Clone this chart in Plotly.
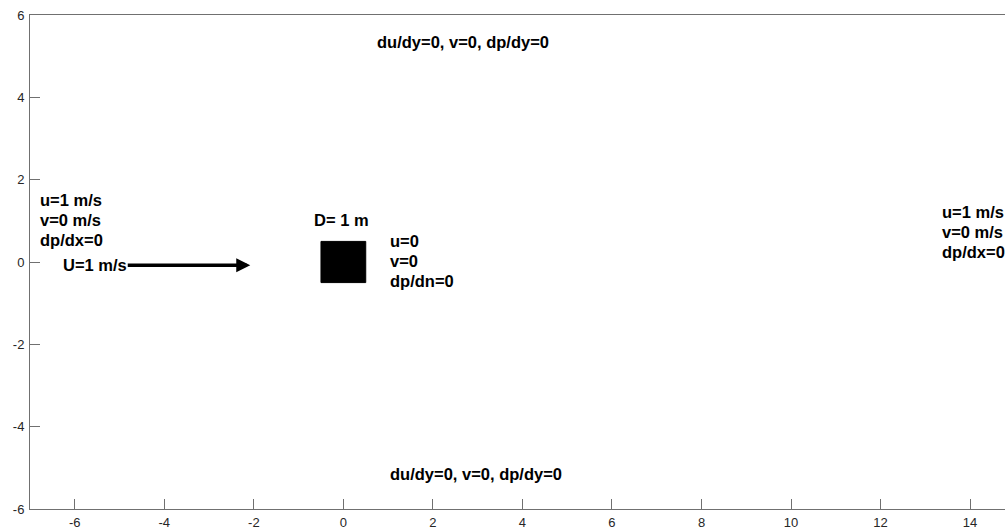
import plotly.graph_objects as go

# Domain and obstacle
x_range = [-7, 14.78]
y_range = [-6, 6]
x_ticks = [-6, -4, -2, 0, 2, 4, 6, 8, 10, 12, 14]
y_ticks = [-6, -4, -2, 0, 2, 4, 6]
x_tick_text = ["-6", "-4", "-2", "0", "2", "4", "6", "8", "10", "12", "14"]
y_tick_text = ["-6", "-4", "-2", "0", "2", "4", "6"]
cyl_center = [0.0, 0.0]
cyl_D = 1.0

# Inflow arrow (U = 1 m/s)
arrow_x = [-4.85, -2.08]
arrow_y = [-0.08, -0.08]

# Boundary-condition labels: text, x, y
label_text = [
    "du/dy=0, v=0, dp/dy=0",
    "du/dy=0, v=0, dp/dy=0",
    "u=1 m/s", "v=0 m/s", "dp/dx=0",
    "U=1 m/s",
    "D= 1 m",
    "u=0", "v=0", "dp/dn=0",
    "u=1 m/s", "v=0 m/s", "dp/dx=0",
]
label_x = [0.7, 0.99, -6.82, -6.82, -6.82, -6.3, -0.69, 0.99, 0.99, 0.99, 13.32, 13.32, 13.32]
label_y = [5.35, -5.15, 1.5, 1.02, 0.53, -0.08, 1.02, 0.5, 0.02, -0.47, 1.22, 0.74, 0.25]

h = cyl_D / 2
sq_x = [cyl_center[0] - h, cyl_center[0] + h, cyl_center[0] + h, cyl_center[0] - h, cyl_center[0] - h]
sq_y = [cyl_center[1] - h, cyl_center[1] - h, cyl_center[1] + h, cyl_center[1] + h, cyl_center[1] - h]

fig = go.Figure()
fig.add_trace(go.Scatter(
    x=sq_x, y=sq_y, mode="lines", fill="toself",
    fillcolor="black", line=dict(color="black", width=1),
    hoverinfo="skip", showlegend=False,
))

annotations = []
for t, x, y in zip(label_text, label_x, label_y):
    annotations.append(dict(
        x=x, y=y, xref="x", yref="y", text="<b>%s</b>" % t,
        showarrow=False, xanchor="left", yanchor="middle",
        font=dict(family="Liberation Sans, Arial, sans-serif", size=16.5, color="black"),
    ))
annotations.append(dict(
    x=arrow_x[1], y=arrow_y[1], ax=arrow_x[0], ay=arrow_y[0],
    xref="x", yref="y", axref="x", ayref="y", text="",
    showarrow=True, arrowhead=2, arrowsize=0.8, arrowwidth=3.5, arrowcolor="black",
    standoff=0, startstandoff=0,
))

axis_common = dict(
    showgrid=False, zeroline=False, showline=True, linecolor="#707070", linewidth=1,
    ticks="inside", ticklen=10, tickwidth=1, tickcolor="#707070", automargin=False,
    tickfont=dict(family="Liberation Sans, Arial, sans-serif", size=13, color="#262626"),
)
fig.update_layout(
    width=1005, height=531,
    margin=dict(l=30, r=0, t=15, b=22),
    paper_bgcolor="white", plot_bgcolor="white",
    xaxis=dict(range=x_range, tickvals=x_ticks, ticktext=x_tick_text, mirror=True,
               ticklabelstandoff=1, **axis_common),
    yaxis=dict(range=y_range, tickvals=y_ticks, ticktext=y_tick_text, mirror=False,
               ticklabelstandoff=2, **axis_common),
    annotations=annotations,
    showlegend=False,
)
fig.write_html("out.html")
